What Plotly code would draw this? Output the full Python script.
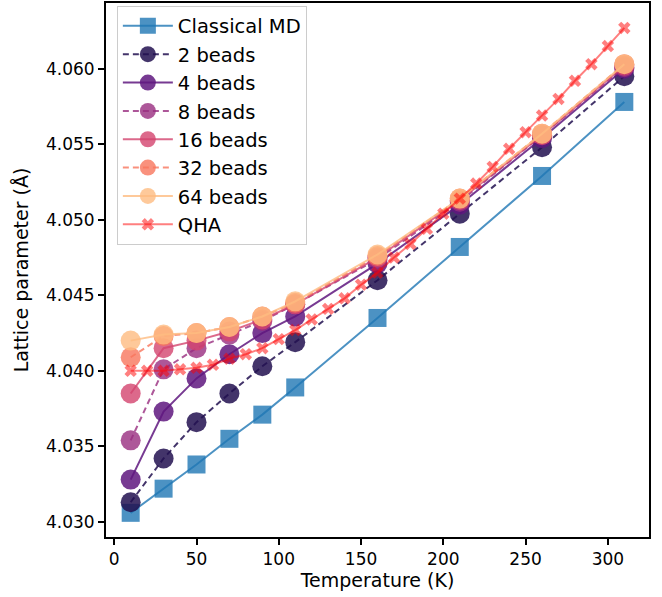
import plotly.graph_objects as go

T_md = [10, 30, 50, 70, 90, 110, 160, 210, 260, 310]
classical_md = [4.0306, 4.0322, 4.0338, 4.0355, 4.0371, 4.0389, 4.0435, 4.0482, 4.0529, 4.0578]
beads_2 = [4.0313, 4.0342, 4.0366, 4.0385, 4.0403, 4.0419, 4.0460, 4.0504, 4.0548, 4.0595]
beads_4 = [4.0328, 4.0373, 4.0395, 4.0411, 4.0425, 4.0436, 4.0471, 4.0510, 4.0554, 4.0600]
beads_8 = [4.0354, 4.0401, 4.0415, 4.0424, 4.0433, 4.0444, 4.0474, 4.0512, 4.0556, 4.0601]
beads_16 = [4.0385, 4.0415, 4.0420, 4.0426, 4.0434, 4.0444, 4.0475, 4.0513, 4.0556, 4.0602]
beads_32 = [4.0409, 4.0423, 4.0425, 4.0429, 4.0436, 4.0445, 4.0476, 4.0514, 4.0557, 4.0603]
beads_64 = [4.0420, 4.0424, 4.0425, 4.0429, 4.0436, 4.0446, 4.0477, 4.0514, 4.0557, 4.0603]

T_qha = [10, 20, 30, 40, 50, 60, 70, 80, 90, 100, 110, 120, 130, 140, 150, 160,
         170, 180, 190, 200, 210, 220, 230, 240, 250, 260, 270, 280, 290, 300, 310]
qha = [4.0400, 4.0400, 4.0400, 4.0401, 4.0402, 4.0404, 4.0408, 4.0411, 4.0415, 4.0421,
       4.0427, 4.0434, 4.0441, 4.0448, 4.0457, 4.0465, 4.0475, 4.0484, 4.0494, 4.0504,
       4.0514, 4.0524, 4.0535, 4.0547, 4.0558, 4.0569, 4.0580, 4.0592, 4.0603, 4.0615, 4.0627]

magma = ["rgba(34,17,80,0.85)", "rgba(95,24,127,0.85)", "rgba(152,45,128,0.8)",
         "rgba(211,67,110,0.8)", "rgba(248,118,92,0.8)", "rgba(254,187,129,0.8)"]

fig = go.Figure()
fig.add_trace(go.Scatter(
    x=T_md, y=classical_md, name="Classical MD", mode="lines+markers", legendgroup="g0",
    line=dict(color="rgba(31,119,180,0.8)", width=2),
    marker=dict(symbol="square", size=18, color="rgba(31,119,180,0.8)", line=dict(width=0)),
))
bead_sets = [("2 beads", beads_2, "dash"), ("4 beads", beads_4, "solid"),
             ("8 beads", beads_8, "dash"), ("16 beads", beads_16, "solid"),
             ("32 beads", beads_32, "dash"), ("64 beads", beads_64, "solid")]
for i, ((name, vals, dash), col) in enumerate(zip(bead_sets, magma)):
    fig.add_trace(go.Scatter(
        x=T_md, y=vals, name=name, mode="lines+markers", legendgroup=f"g{i+1}",
        line=dict(color=col, width=2, dash="6px,4px" if dash == "dash" else "solid"),
        marker=dict(symbol="circle", size=20, color=col, line=dict(width=0)),
    ))
fig.add_trace(go.Scatter(
    x=T_qha, y=qha, name="QHA", mode="lines+markers", legendgroup="g7",
    line=dict(color="rgba(255,0,0,0.5)", width=2),
    marker=dict(symbol="x", size=11, color="rgba(255,0,0,0.5)", line=dict(width=0)),
))

axis_common = dict(
    showline=True, linecolor="black", linewidth=2, mirror=True,
    ticks="outside", ticklen=6, tickwidth=1.5, tickcolor="black",
    showgrid=False, zeroline=False,
    tickfont=dict(family="DejaVu Sans", size=17, color="black"),
)
fig.update_layout(
    width=662, height=597,
    margin=dict(l=106, r=13, t=3, b=60),
    paper_bgcolor="white", plot_bgcolor="white",
    font=dict(family="DejaVu Sans", size=17, color="black"),
    showlegend=True,
    legend=dict(x=0.02, y=0.995, xanchor="left", yanchor="top",
                bgcolor="rgba(255,255,255,0.8)", bordercolor="#cccccc", borderwidth=1,
                font=dict(size=19.5), tracegroupgap=0, itemwidth=50),
    xaxis=dict(range=[-5, 325], tickvals=[0, 50, 100, 150, 200, 250, 300],
               title=dict(text="Temperature (K)", standoff=2, font=dict(size=19)),
               automargin=False, **axis_common),
    yaxis=dict(range=[4.0290, 4.06435],
               tickvals=[4.030, 4.035, 4.040, 4.045, 4.050, 4.055, 4.060],
               ticktext=["4.030", "4.035", "4.040", "4.045", "4.050", "4.055", "4.060"],
               title=dict(text="Lattice parameter (Å)", standoff=12, font=dict(size=19)),
               automargin=False, **axis_common),
)
fig.write_html("out.html")
